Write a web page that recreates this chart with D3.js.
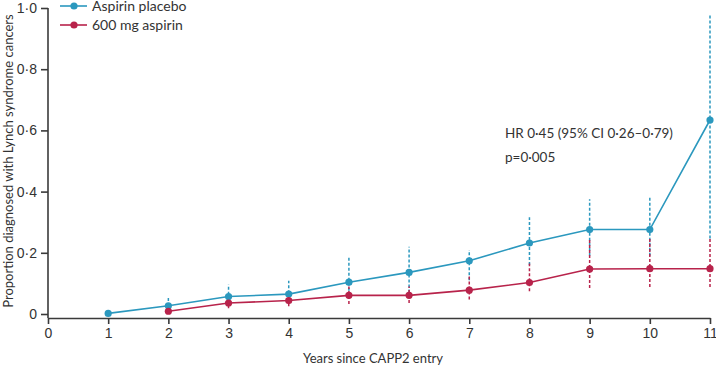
<!DOCTYPE html>
<html>
<head>
<meta charset="utf-8">
<script src="https://cdn.jsdelivr.net/npm/d3@7"></script>
<style>
  body { margin: 0; background: #fff; }
  svg { font-family: Lato, 'Open Sans', sans-serif; }
</style>
</head>
<body>
<svg id="chart"></svg>
<script>
// years since entry
const years = [1, 2, 3, 4, 5, 6, 7, 8, 9, 10, 11];
const xTicks = [0, 1, 2, 3, 4, 5, 6, 7, 8, 9, 10, 11];
const yTicks = [0, 0.2, 0.4, 0.6, 0.8, 1.0];

// Aspirin placebo (cumulative proportion + 95% CI)
const placeboYears = [1, 2, 3, 4, 5, 6, 7, 8, 9, 10, 11];
const placeboValue = [0.002, 0.027, 0.057, 0.065, 0.104, 0.136, 0.174, 0.232, 0.276, 0.276, 0.634];
const placeboLow   = [null, 0.010, 0.030, 0.035, 0.060, 0.070, 0.110, 0.160, 0.190, 0.190, 0.247];
const placeboHigh  = [null, 0.058, 0.096, 0.109, 0.184, 0.220, 0.209, 0.316, 0.375, 0.384, 0.977];

// 600 mg aspirin
const aspirinYears = [2, 3, 4, 5, 6, 7, 8, 9, 10, 11];
const aspirinValue = [0.009, 0.036, 0.044, 0.061, 0.061, 0.078, 0.103, 0.147, 0.148, 0.148];
const aspirinLow   = [0.003, 0.019, 0.025, 0.033, 0.036, 0.047, 0.074, 0.085, 0.088, 0.088];
const aspirinHigh  = [0.020, 0.052, 0.060, 0.090, 0.090, 0.123, 0.165, 0.247, 0.247, 0.247];

const seriesNames = ['Aspirin placebo', '600 mg aspirin'];
const seriesColors = ['#2b98be', '#b8234b'];
const annotation = ['HR 0·45 (95% CI 0·26–0·79)', 'p=0·005'];

const width = 716, height = 369;
const margin = {top: 8, right: 6, bottom: 51, left: 48};

const svg = d3.select('#chart')
    .attr('width', width)
    .attr('height', height);

const xScale = d3.scaleLinear()
    .domain([0, 11])
    .range([margin.left, width - margin.right]);

const yScale = d3.scaleLinear()
    .domain([0, 1])
    .range([height - margin.bottom - 4, margin.top]);

const axisY0 = height - margin.bottom; // x axis sits a few px under the zero line

const fmt = d => d === 0 ? '0' : d.toFixed(1).replace('.', '·');

// axes
const xAxis = d3.axisBottom(xScale)
    .tickValues(xTicks)
    .tickFormat(d3.format('d'))
    .tickSizeInner(6)
    .tickSizeOuter(0)
    .tickPadding(4);

const yAxis = d3.axisLeft(yScale)
    .tickValues(yTicks)
    .tickFormat(fmt)
    .tickSizeInner(7)
    .tickSizeOuter(0)
    .tickPadding(4);

const xAxisG = svg.append('g')
    .attr('transform', `translate(0,${axisY0})`)
    .call(xAxis);

const yAxisG = svg.append('g')
    .attr('transform', `translate(${margin.left},0)`)
    .call(yAxis);

// stretch y axis line down to meet x axis
yAxisG.select('.domain')
    .attr('d', `M0,${yScale(1)}V${axisY0}`);

[xAxisG, yAxisG].forEach(g => {
  g.selectAll('.domain, .tick line')
      .attr('stroke', '#3a3a3a')
      .attr('stroke-width', 1.6);
  g.selectAll('text')
      .style('font-size', '14px')
      .style('font-family', 'inherit')
      .attr('fill', '#333');
});

// axis titles
svg.append('text')
    .attr('x', xScale(5.4))
    .attr('y', 363)
    .attr('text-anchor', 'middle')
    .style('font-size', '13px')
    .attr('fill', '#333')
    .text('Years since CAPP2 entry');

svg.append('text')
    .attr('transform', `translate(13,${(yScale(0) + yScale(1)) / 2}) rotate(-90)`)
    .attr('text-anchor', 'middle')
    .style('font-size', '13px')
    .attr('fill', '#333')
    .text('Proportion diagnosed with Lynch syndrome cancers');

// build series rows
const placebo = placeboYears.map((yr, i) => ({
  year: yr, value: placeboValue[i], lo: placeboLow[i], hi: placeboHigh[i]
}));
const aspirin = aspirinYears.map((yr, i) => ({
  year: yr, value: aspirinValue[i], lo: aspirinLow[i], hi: aspirinHigh[i]
}));
const series = [placebo, aspirin];

const line = d3.line()
    .x(d => xScale(d.year))
    .y(d => yScale(d.value));

// error bars first (placebo under aspirin)
series.forEach((data, s) => {
  svg.append('g')
      .selectAll('line')
      .data(data.filter(d => d.lo !== null))
      .join('line')
        .attr('x1', d => xScale(d.year))
        .attr('x2', d => xScale(d.year))
        .attr('y1', d => yScale(d.lo))
        .attr('y2', d => yScale(d.hi))
        .attr('stroke', seriesColors[s])
        .attr('stroke-width', 1.5)
        .attr('stroke-dasharray', '3,2');
});

series.forEach((data, s) => {
  const g = svg.append('g');
  g.append('path')
      .datum(data)
      .attr('d', line)
      .attr('fill', 'none')
      .attr('stroke', seriesColors[s])
      .attr('stroke-width', 1.6);
  g.selectAll('circle')
      .data(data)
      .join('circle')
        .attr('cx', d => xScale(d.year))
        .attr('cy', d => yScale(d.value))
        .attr('r', 3.6)
        .attr('fill', seriesColors[s]);
});

// legend
const legend = svg.append('g')
    .attr('transform', 'translate(60,6)');

seriesNames.forEach((name, i) => {
  const row = legend.append('g')
      .attr('transform', `translate(0,${i * 19})`);
  row.append('line')
      .attr('x1', 0).attr('x2', 27)
      .attr('stroke', seriesColors[i])
      .attr('stroke-width', 1.6);
  row.append('circle')
      .attr('cx', 14).attr('r', 3.6)
      .attr('fill', seriesColors[i]);
  row.append('text')
      .attr('x', 32)
      .attr('dy', '0.35em')
      .style('font-size', '14px')
      .attr('fill', '#333')
      .text(name);
});

// annotation
svg.append('g')
    .selectAll('text')
    .data(annotation)
    .join('text')
      .attr('x', 505)
      .attr('y', (d, i) => 138 + i * 24)
      .style('font-size', '13.5px')
      .attr('fill', '#333')
      .text(d => d);
</script>
</body>
</html>
